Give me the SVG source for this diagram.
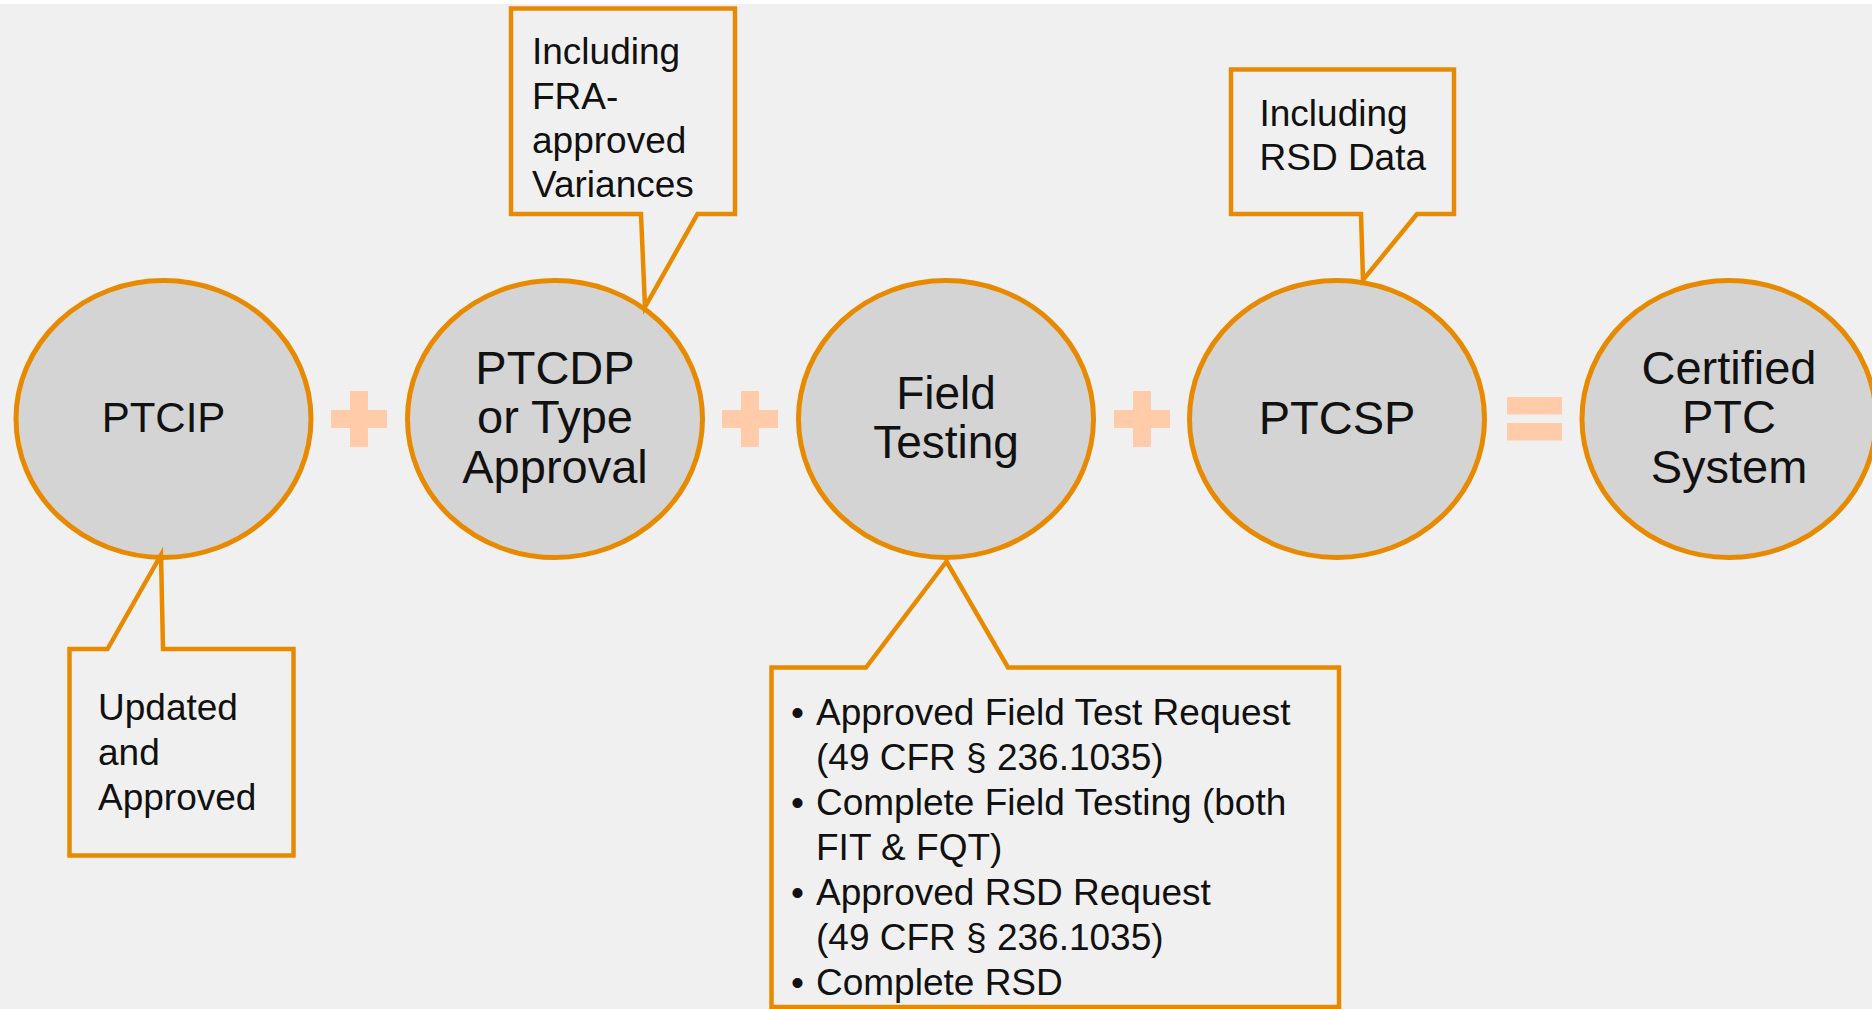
<svg xmlns="http://www.w3.org/2000/svg" width="1872" height="1009" viewBox="0 0 1872 1009">
<style>
.node{fill:#d4d4d4;stroke:#e88a00;stroke-width:5}
.call{fill:#f0f0f0;stroke:#e88a00;stroke-width:4.5;stroke-linejoin:miter}
.op{fill:#ffcba8}
.t{font-family:"Liberation Sans",Arial,sans-serif;fill:#111}
.nt{font-size:47px;text-anchor:middle}
.ct{font-size:37px}
</style>
<rect x="0" y="0" width="1872" height="1009" fill="#f0f0f0"/>
<rect x="0" y="0" width="1872" height="4" fill="#ffffff"/>
<g id="operators">
<path class="op" d="M350,391 h18 v19 h19 v18 h-19 v19 h-18 v-19 h-19 v-18 h19 z"/>
<path class="op" d="M741,391 h18 v19 h19 v18 h-19 v19 h-18 v-19 h-19 v-18 h19 z"/>
<path class="op" d="M1133,391 h18 v19 h19 v18 h-19 v19 h-18 v-19 h-19 v-18 h19 z"/>
<rect class="op" x="1507" y="397" width="55" height="17.5"/>
<rect class="op" x="1507" y="423" width="55" height="17.5"/>
</g>
<g id="node-ptcip">
<ellipse class="node" cx="163.5" cy="419" rx="147.5" ry="138.5"/>
<text class="t nt" x="163.5" y="432" style="font-size:42px">PTCIP</text>
</g>
<g id="node-ptcdp">
<ellipse class="node" cx="555" cy="419" rx="147.5" ry="138.5"/>
<text class="t nt" x="555" y="383.5">PTCDP</text>
<text class="t nt" x="555" y="433">or Type</text>
<text class="t nt" x="555" y="482.5">Approval</text>
</g>
<g id="node-field">
<ellipse class="node" cx="946" cy="419" rx="147.5" ry="138.5"/>
<text class="t nt" x="946" y="408.5" style="font-size:46px">Field</text>
<text class="t nt" x="946" y="458" style="font-size:46px">Testing</text>
</g>
<g id="node-ptcsp">
<ellipse class="node" cx="1337" cy="419" rx="147.5" ry="138.5"/>
<text class="t nt" x="1337" y="434">PTCSP</text>
</g>
<g id="node-certified">
<ellipse class="node" cx="1729" cy="419" rx="147" ry="138.5"/>
<text class="t nt" x="1729" y="383.5">Certified</text>
<text class="t nt" x="1729" y="433">PTC</text>
<text class="t nt" x="1729" y="482.5">System</text>
</g>
<g id="connectors">
<path id="callout-fra" class="call" d="M511,8.5 H735 V214 H697.5 L645,307 L641,214 H511 Z"/>
<path id="callout-rsd" class="call" d="M1231,69.5 H1454 V214 H1417 L1363,280 L1361,214 H1231 Z"/>
<path id="callout-ptcip" class="call" d="M69.5,649 H107.5 L161,555 L163,649 H293.5 V855.5 H69.5 Z"/>
<path id="callout-field" class="call" d="M771.5,667.5 H866 L946.5,561.5 L1008,667.5 H1339 V1007 H771.5 Z"/>
</g>
<g id="note-fra">
<text class="t ct" x="532" y="64">Including</text>
<text class="t ct" x="532" y="108.5">FRA-</text>
<text class="t ct" x="532" y="153">approved</text>
<text class="t ct" x="532" y="197">Variances</text>
</g>
<g id="note-rsd">
<text class="t ct" x="1259.5" y="126">Including</text>
<text class="t ct" x="1259.5" y="170">RSD Data</text>
</g>
<g id="note-ptcip">
<text class="t ct" x="98" y="720">Updated</text>
<text class="t ct" x="98" y="765">and</text>
<text class="t ct" x="98" y="809.5">Approved</text>
</g>
<g id="note-field">
<text class="t ct" x="791" y="725">•</text>
<text class="t ct" x="816" y="725">Approved Field Test Request</text>
<text class="t ct" x="816" y="770">(49 CFR § 236.1035)</text>
<text class="t ct" x="791" y="815">•</text>
<text class="t ct" x="816" y="815">Complete Field Testing (both</text>
<text class="t ct" x="816" y="860">FIT &amp; FQT)</text>
<text class="t ct" x="791" y="905">•</text>
<text class="t ct" x="816" y="905">Approved RSD Request</text>
<text class="t ct" x="816" y="950">(49 CFR § 236.1035)</text>
<text class="t ct" x="791" y="994.5">•</text>
<text class="t ct" x="816" y="994.5">Complete RSD</text>
</g>
</svg>
